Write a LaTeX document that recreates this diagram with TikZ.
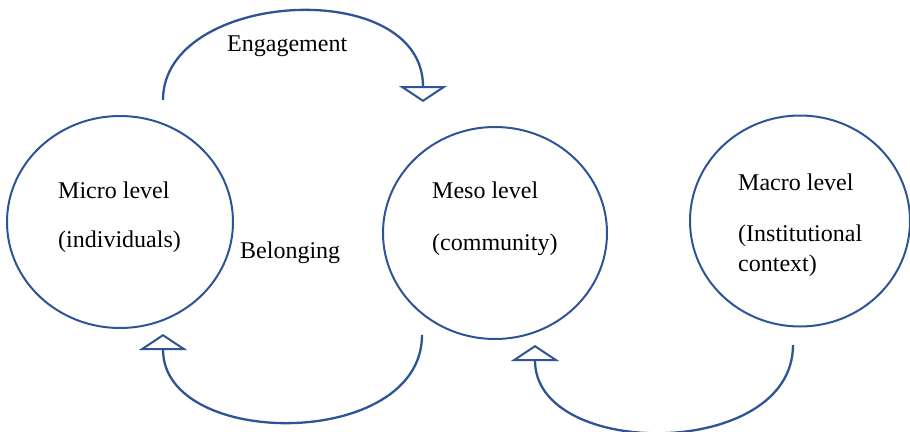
\documentclass[tikz,border=0pt]{standalone}
\usepackage{fontspec}
\setmainfont{Liberation Serif}
\usetikzlibrary{shapes.geometric,arrows.meta}
\definecolor{levelblue}{RGB}{47,84,150}
\begin{document}
\begin{tikzpicture}[x=1pt,y=-1pt,
  tier/.style={ellipse, draw=levelblue, line width=2pt, inner sep=0pt},
  txt/.style={anchor=base west, inner sep=0pt, font=\fontsize{24}{29}\selectfont},
  flow/.style={draw=levelblue, line width=2.3pt,
    -{Triangle[open, length=16pt, width=48pt, line width=2pt]}}]
\useasboundingbox (0,0) rectangle (910,431);
\clip (0,0) rectangle (910,431);

% the three levels
\node[tier, minimum width=226pt, minimum height=212pt] (micro) at (120,222) {};
\node[tier, minimum width=224pt, minimum height=212pt] (meso)  at (495,233) {};
\node[tier, minimum width=220pt, minimum height=211pt] (macro) at (800,221) {};

% level captions
\node[txt] (microA) at (58,198)  {Micro level};
\node[txt] (microB) at (58,247)  {(individuals)};
\node[txt] (mesoA)  at (432,198) {Meso level};
\node[txt] (mesoB)  at (432,250) {(community)};
\node[txt] (macroA) at (738,190) {Macro level};
\node[txt] (macroB) at (738,241) {(Institutional};
\node[txt] (macroC) at (738,271) {context)};

% flow labels
\node[txt] (eng) at (227,51)  {Engagement};
\node[txt] (bel) at (240,258) {Belonging};

% arc end points
\coordinate (engS) at (163,100);
\coordinate (engT) at (423,102);
\coordinate (belS) at (422,335);
\coordinate (belT) at (163,334);
\coordinate (instS) at (793,345);
\coordinate (instT) at (535,345);

% flows between the levels
\draw[flow] (engS) .. controls (163,-10) and (423,-25) .. (engT);
\draw[flow] (belS) .. controls (422,450) and (163,450) .. (belT);
\draw[flow] (instS) .. controls (793,460) and (535,460) .. (instT);
\end{tikzpicture}
\end{document}
